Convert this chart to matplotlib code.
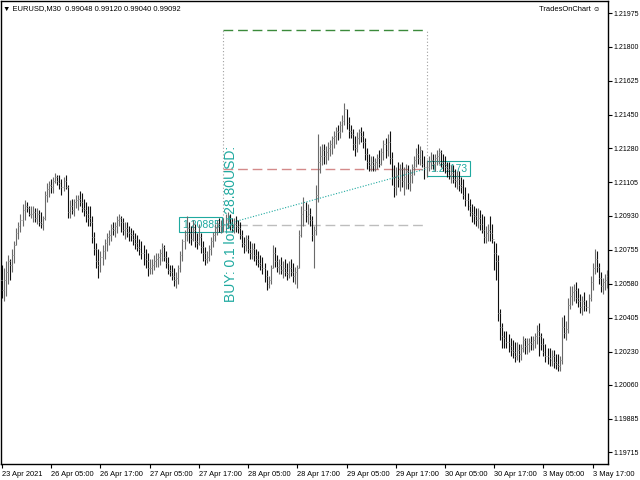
import matplotlib
matplotlib.use("Agg")
import matplotlib.pyplot as plt
from matplotlib import font_manager as fm
import numpy as np

# chart header / indicator label
header_text = "\u25bc EURUSD,M30  0.99048 0.99120 0.99040 0.99092"
indicator_text = "TradesOnChart \u263a"

# M30 bars (open = previous close)
first_open = 1.2060
highs = [
    1.2068, 1.2066, 1.2070, 1.2073, 1.2071, 1.2076, 1.2080, 1.2087, 1.2090, 1.2094,
    1.2099, 1.2101, 1.2100, 1.2098, 1.2098, 1.2098, 1.2097, 1.2097, 1.2096, 1.2095,
    1.2093, 1.2106, 1.2110, 1.2111, 1.2112, 1.2113, 1.2115, 1.2114, 1.2114, 1.2112,
    1.2113, 1.2114, 1.2109, 1.2101, 1.2102, 1.2102, 1.2104, 1.2104, 1.2106, 1.2105,
    1.2102, 1.2100, 1.2098, 1.2098, 1.2093, 1.2085, 1.2079, 1.2076, 1.2075, 1.2078,
    1.2081, 1.2084, 1.2086, 1.2089, 1.2090, 1.2090, 1.2093, 1.2094, 1.2093, 1.2092,
    1.2090, 1.2090, 1.2088, 1.2087, 1.2086, 1.2084, 1.2083, 1.2081, 1.2080, 1.2078,
    1.2076, 1.2074, 1.2071, 1.2071, 1.2073, 1.2074, 1.2074, 1.2076, 1.2079, 1.2078,
    1.2075, 1.2072, 1.2068, 1.2068, 1.2066, 1.2064, 1.2068, 1.2075, 1.2081, 1.2086,
    1.2093, 1.2090, 1.2088, 1.2091, 1.2089, 1.2084, 1.2089, 1.2084, 1.2080, 1.2077,
    1.2075, 1.2078, 1.2082, 1.2085, 1.2089, 1.2091, 1.2092, 1.2091, 1.2092, 1.2094,
    1.2095, 1.2094, 1.2092, 1.2092, 1.2093, 1.2091, 1.2090, 1.2086, 1.2082, 1.2083,
    1.2083, 1.2080, 1.2079, 1.2079, 1.2076, 1.2075, 1.2073, 1.2072, 1.2069, 1.2065,
    1.2062, 1.2068, 1.2078, 1.2077, 1.2073, 1.2071, 1.2072, 1.2070, 1.2071, 1.2069,
    1.2070, 1.2071, 1.2069, 1.2067, 1.2068, 1.2086, 1.2098, 1.2103, 1.2100, 1.2099,
    1.2097, 1.2093, 1.2088, 1.2109, 1.2135, 1.2129, 1.2130, 1.2130, 1.2129, 1.2131,
    1.2132, 1.2134, 1.2137, 1.2139, 1.2140, 1.2142, 1.2145, 1.2151, 1.2148, 1.2144,
    1.2140, 1.2138, 1.2134, 1.2136, 1.2138, 1.2139, 1.2137, 1.2133, 1.2128, 1.2125,
    1.2124, 1.2124, 1.2123, 1.2125, 1.2127, 1.2128, 1.2132, 1.2133, 1.2135, 1.2137,
    1.2126, 1.2119, 1.2118, 1.2121, 1.2120, 1.2121, 1.2118, 1.2120, 1.2119, 1.2117,
    1.2120, 1.2124, 1.2128, 1.2130, 1.2129, 1.2127, 1.2124, 1.2122, 1.2124, 1.2126,
    1.2125, 1.2125, 1.2127, 1.2128, 1.2127, 1.2125, 1.2124, 1.2121, 1.2121, 1.2119,
    1.2119, 1.2117, 1.2116, 1.2116, 1.2113, 1.2112, 1.2108, 1.2105, 1.2102, 1.2099,
    1.2098, 1.2097, 1.2097, 1.2096, 1.2094, 1.2093, 1.2088, 1.2089, 1.2093, 1.2089,
    1.2080, 1.2079, 1.2073, 1.2045, 1.2038, 1.2034, 1.2034, 1.2032, 1.2030, 1.2029,
    1.2028, 1.2028, 1.2027, 1.2027, 1.2031, 1.2030, 1.2030, 1.2030, 1.2031, 1.2031,
    1.2033, 1.2037, 1.2038, 1.2033, 1.2030, 1.2027, 1.2025, 1.2025, 1.2024, 1.2024,
    1.2022, 1.2022, 1.2021, 1.2041, 1.2042, 1.2039, 1.2051, 1.2057, 1.2057, 1.2058,
    1.2059, 1.2056, 1.2053, 1.2052, 1.2054, 1.2050, 1.2053, 1.2062, 1.2069, 1.2076,
    1.2075, 1.2069, 1.2064, 1.2061, 1.2063, 1.2065,
]
lows = [
    1.2051, 1.2049, 1.2052, 1.2058, 1.2060, 1.2064, 1.2069, 1.2078, 1.2081, 1.2085,
    1.2088, 1.2091, 1.2095, 1.2093, 1.2092, 1.2090, 1.2090, 1.2089, 1.2088, 1.2087,
    1.2086, 1.2091, 1.2100, 1.2103, 1.2105, 1.2105, 1.2110, 1.2109, 1.2107, 1.2104,
    1.2106, 1.2107, 1.2092, 1.2092, 1.2094, 1.2093, 1.2097, 1.2096, 1.2098, 1.2095,
    1.2093, 1.2090, 1.2088, 1.2088, 1.2079, 1.2073, 1.2066, 1.2061, 1.2064, 1.2068,
    1.2071, 1.2075, 1.2078, 1.2080, 1.2083, 1.2082, 1.2084, 1.2088, 1.2085, 1.2083,
    1.2081, 1.2082, 1.2080, 1.2080, 1.2078, 1.2076, 1.2075, 1.2073, 1.2071, 1.2068,
    1.2066, 1.2062, 1.2063, 1.2063, 1.2065, 1.2067, 1.2067, 1.2068, 1.2070, 1.2070,
    1.2066, 1.2063, 1.2062, 1.2060, 1.2057, 1.2056, 1.2058, 1.2064, 1.2070, 1.2076,
    1.2080, 1.2079, 1.2078, 1.2080, 1.2077, 1.2076, 1.2078, 1.2074, 1.2070, 1.2068,
    1.2069, 1.2070, 1.2073, 1.2077, 1.2080, 1.2083, 1.2085, 1.2084, 1.2085, 1.2086,
    1.2087, 1.2086, 1.2085, 1.2084, 1.2085, 1.2084, 1.2081, 1.2077, 1.2074, 1.2075,
    1.2074, 1.2071, 1.2071, 1.2070, 1.2068, 1.2067, 1.2065, 1.2063, 1.2059, 1.2055,
    1.2056, 1.2058, 1.2066, 1.2067, 1.2064, 1.2063, 1.2063, 1.2061, 1.2062, 1.2060,
    1.2061, 1.2062, 1.2059, 1.2058, 1.2056, 1.2066, 1.2082, 1.2088, 1.2090, 1.2089,
    1.2088, 1.2080, 1.2066, 1.2083, 1.2100, 1.2115, 1.2119, 1.2120, 1.2120, 1.2122,
    1.2124, 1.2125, 1.2128, 1.2130, 1.2132, 1.2133, 1.2136, 1.2140, 1.2138, 1.2133,
    1.2133, 1.2127, 1.2124, 1.2126, 1.2130, 1.2131, 1.2128, 1.2122, 1.2117, 1.2116,
    1.2116, 1.2116, 1.2116, 1.2117, 1.2118, 1.2119, 1.2122, 1.2123, 1.2124, 1.2120,
    1.2109, 1.2103, 1.2104, 1.2108, 1.2106, 1.2108, 1.2104, 1.2107, 1.2107, 1.2106,
    1.2110, 1.2114, 1.2118, 1.2120, 1.2119, 1.2118, 1.2112, 1.2113, 1.2116, 1.2117,
    1.2117, 1.2116, 1.2119, 1.2120, 1.2118, 1.2116, 1.2115, 1.2113, 1.2112, 1.2110,
    1.2110, 1.2108, 1.2107, 1.2106, 1.2105, 1.2102, 1.2098, 1.2096, 1.2093, 1.2090,
    1.2089, 1.2088, 1.2087, 1.2086, 1.2084, 1.2079, 1.2079, 1.2080, 1.2080, 1.2079,
    1.2065, 1.2060, 1.2039, 1.2029, 1.2025, 1.2025, 1.2025, 1.2023, 1.2021, 1.2020,
    1.2018, 1.2019, 1.2018, 1.2019, 1.2023, 1.2022, 1.2022, 1.2023, 1.2024, 1.2024,
    1.2025, 1.2027, 1.2021, 1.2024, 1.2021, 1.2018, 1.2017, 1.2016, 1.2016, 1.2015,
    1.2014, 1.2013, 1.2013, 1.2017, 1.2030, 1.2029, 1.2033, 1.2045, 1.2047, 1.2049,
    1.2048, 1.2046, 1.2043, 1.2042, 1.2044, 1.2044, 1.2043, 1.2049, 1.2055, 1.2063,
    1.2064, 1.2058, 1.2054, 1.2053, 1.2055, 1.2056,
]
closes = [
    1.2055, 1.2060, 1.2064, 1.2070, 1.2068, 1.2073, 1.2078, 1.2084, 1.2088, 1.2091,
    1.2096, 1.2098, 1.2097, 1.2094, 1.2094, 1.2095, 1.2092, 1.2094, 1.2090, 1.2089,
    1.2092, 1.2104, 1.2107, 1.2109, 1.2108, 1.2111, 1.2113, 1.2111, 1.2110, 1.2108,
    1.2111, 1.2108, 1.2095, 1.2098, 1.2096, 1.2100, 1.2101, 1.2102, 1.2100, 1.2097,
    1.2096, 1.2094, 1.2092, 1.2090, 1.2082, 1.2076, 1.2070, 1.2068, 1.2072, 1.2075,
    1.2079, 1.2082, 1.2083, 1.2087, 1.2086, 1.2088, 1.2091, 1.2092, 1.2090, 1.2086,
    1.2087, 1.2085, 1.2084, 1.2083, 1.2081, 1.2079, 1.2077, 1.2076, 1.2074, 1.2071,
    1.2070, 1.2066, 1.2066, 1.2068, 1.2070, 1.2071, 1.2072, 1.2074, 1.2077, 1.2072,
    1.2069, 1.2065, 1.2064, 1.2062, 1.2060, 1.2061, 1.2066, 1.2073, 1.2080, 1.2083,
    1.2087, 1.2084, 1.2081, 1.2086, 1.2080, 1.2079, 1.2082, 1.2077, 1.2074, 1.2071,
    1.2072, 1.2076, 1.2080, 1.2083, 1.2087, 1.2089, 1.2088, 1.2088, 1.2089, 1.2091,
    1.2092, 1.2089, 1.2088, 1.2089, 1.2088, 1.2087, 1.2083, 1.2079, 1.2078, 1.2081,
    1.2076, 1.2074, 1.2076, 1.2073, 1.2071, 1.2069, 1.2068, 1.2066, 1.2062, 1.2058,
    1.2060, 1.2066, 1.2074, 1.2070, 1.2067, 1.2068, 1.2065, 1.2066, 1.2064, 1.2063,
    1.2066, 1.2064, 1.2062, 1.2064, 1.2066, 1.2083, 1.2094, 1.2096, 1.2093, 1.2094,
    1.2091, 1.2083, 1.2086, 1.2104, 1.2121, 1.2124, 1.2127, 1.2124, 1.2126, 1.2128,
    1.2130, 1.2133, 1.2134, 1.2137, 1.2136, 1.2140, 1.2142, 1.2148, 1.2141, 1.2137,
    1.2135, 1.2130, 1.2128, 1.2133, 1.2136, 1.2134, 1.2131, 1.2125, 1.2121, 1.2119,
    1.2121, 1.2119, 1.2121, 1.2123, 1.2120, 1.2126, 1.2130, 1.2127, 1.2131, 1.2123,
    1.2113, 1.2108, 1.2114, 1.2112, 1.2117, 1.2111, 1.2113, 1.2116, 1.2110, 1.2114,
    1.2118, 1.2122, 1.2125, 1.2123, 1.2127, 1.2120, 1.2118, 1.2118, 1.2121, 1.2122,
    1.2120, 1.2123, 1.2124, 1.2126, 1.2121, 1.2120, 1.2118, 1.2117, 1.2114, 1.2115,
    1.2112, 1.2111, 1.2112, 1.2109, 1.2108, 1.2104, 1.2101, 1.2098, 1.2095, 1.2094,
    1.2093, 1.2091, 1.2092, 1.2089, 1.2086, 1.2082, 1.2084, 1.2086, 1.2084, 1.2081,
    1.2074, 1.2070, 1.2043, 1.2036, 1.2031, 1.2030, 1.2028, 1.2026, 1.2024, 1.2023,
    1.2021, 1.2024, 1.2022, 1.2025, 1.2029, 1.2026, 1.2027, 1.2028, 1.2027, 1.2029,
    1.2031, 1.2034, 1.2031, 1.2027, 1.2023, 1.2021, 1.2020, 1.2019, 1.2021, 1.2018,
    1.2017, 1.2016, 1.2019, 1.2036, 1.2033, 1.2035, 1.2047, 1.2052, 1.2054, 1.2055,
    1.2051, 1.2049, 1.2046, 1.2049, 1.2047, 1.2046, 1.2051, 1.2059, 1.2066, 1.2071,
    1.2067, 1.2061, 1.2057, 1.2059, 1.2060, 1.2062,
]

# time axis labels (every 24 bars = 12 hours)
time_labels = ["23 Apr 2021", "26 Apr 05:00", "26 Apr 17:00", "27 Apr 05:00",
               "27 Apr 17:00", "28 Apr 05:00", "28 Apr 17:00", "29 Apr 05:00",
               "29 Apr 17:00", "30 Apr 05:00", "30 Apr 17:00", "3 May 05:00",
               "3 May 17:00"]
bars_per_label = 24

price_ticks = [1.21975, 1.21800, 1.21625, 1.21450, 1.21280, 1.21105, 1.20930,
               1.20755, 1.20580, 1.20405, 1.20230, 1.20060, 1.19885, 1.19715]

# the trade drawn by the indicator
trade_open_bar = 108
trade_close_bar = 207
trade_open_price = 1.20885
trade_close_price = 1.21173
trade_tp_price = 1.21887
trade_text = "BUY: 0.1 lots+28.80USD:"

teal = "#1fa9a0"

# narrow font for the terminal-style labels, if there is one
try:
    fm.findfont(fm.FontProperties(family="Liberation Sans Narrow"), fallback_to_default=False)
    small_font = dict(family="Liberation Sans Narrow", size=6.3, ysize=6.0)
except Exception:
    small_font = dict(family="Liberation Sans", size=5.4, ysize=5.0)

n = min(len(highs), len(lows), len(closes))
highs = np.array(highs[:n])
lows = np.array(lows[:n])
closes = np.array(closes[:n])
opens = np.concatenate([[first_open], closes[:-1]])
x = np.arange(n)

fig = plt.figure(figsize=(6.4, 4.8), dpi=100)
ax = fig.add_axes([1 / 640, 16 / 480, 607 / 640, 463 / 480])
ax.set_xlim(-0.5, n - 0.5)
ax.set_ylim(1.196533, 1.220368)

# OHLC bars
bar_colors = np.where(closes >= opens, "#6a6a6a", "#101010")
ax.vlines(x, lows, highs, colors=bar_colors, linewidth=0.8, zorder=3)
ax.hlines(opens, x - 0.45, x, colors="#9a9a9a", linewidth=0.7, zorder=3)
ax.hlines(closes, x, x + 0.45, colors="#9a9a9a", linewidth=0.7, zorder=3)

# trade levels
ax.hlines(trade_tp_price, trade_open_bar, trade_close_bar, colors="#3b8a3b",
          linewidth=1.0, linestyles=(0, (7, 3.5)), zorder=2)
ax.hlines(trade_close_price, trade_open_bar, trade_close_bar, colors="#d48a8a",
          linewidth=1.0, linestyles=(0, (7, 3.5)), zorder=2)
ax.hlines(trade_open_price, trade_open_bar, trade_close_bar, colors="#bdbdbd",
          linewidth=1.0, linestyles=(0, (7, 3.5)), zorder=2)
ax.vlines(trade_open_bar, trade_open_price, trade_tp_price, colors="#a0a0a0",
          linewidth=0.8, linestyles=(0, (1, 2)), zorder=2)
ax.vlines(trade_close_bar, trade_close_price, trade_tp_price, colors="#a0a0a0",
          linewidth=0.8, linestyles=(0, (1, 2)), zorder=2)
ax.plot([trade_open_bar, trade_close_bar], [trade_open_price, trade_close_price],
        color=teal, linewidth=0.8, linestyle=(0, (1, 1.5)), zorder=4)

label_box = dict(boxstyle="square,pad=0.25", facecolor="none", edgecolor=teal, linewidth=0.8)
ax.text(trade_open_bar - 1.8, trade_open_price, f"{trade_open_price:.5f}",
        ha="right", va="center", color=teal, fontsize=7.5,
        family="Liberation Sans", bbox=label_box, zorder=2)
ax.text(trade_close_bar + 1.7, trade_close_price, f"{trade_close_price:.5f}",
        ha="left", va="center", color=teal, fontsize=7.5,
        family="Liberation Sans", bbox=label_box, zorder=2)
ax.text(trade_open_bar + 3.7, trade_open_price - 0.0040, trade_text,
        rotation=90, ha="center", va="bottom", color=teal, fontsize=10,
        family="Liberation Sans", zorder=5)

# axes styling like the terminal
for side in ["left", "right", "top", "bottom"]:
    ax.spines[side].set_color("black")
    ax.spines[side].set_linewidth(1.0)

ax.yaxis.tick_right()
ax.set_yticks(price_ticks)
ax.set_yticklabels([f"{p:.5f}" for p in price_ticks])
ax.set_xticks(np.arange(len(time_labels)) * bars_per_label)
ax.set_xticklabels(time_labels)
ax.tick_params(axis="both", direction="out", length=3, width=0.8,
               pad=2, colors="black")
ax.tick_params(axis="y", pad=1.2)
for lbl in ax.get_xticklabels():
    lbl.set_horizontalalignment("left")
    lbl.set_family(small_font["family"])
    lbl.set_size(small_font["size"])
for lbl in ax.get_yticklabels():
    lbl.set_family(small_font["family"])
    lbl.set_size(small_font["ysize"])

ax.text(0.004, 0.992, header_text, transform=ax.transAxes, ha="left", va="top",
        family=[small_font["family"], "DejaVu Sans"], size=small_font["size"])
ax.text(0.988, 0.99, indicator_text, transform=ax.transAxes, ha="right", va="top",
        family=[small_font["family"], "DejaVu Sans"], size=small_font["size"])

fig.savefig("out.png", dpi=100)
